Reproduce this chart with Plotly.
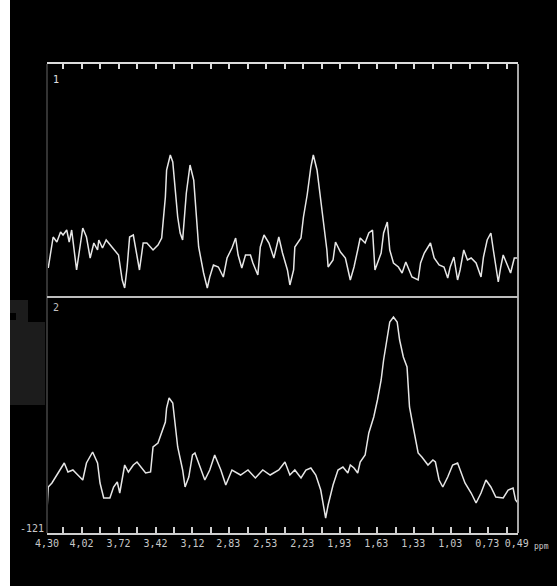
import plotly.graph_objects as go

# ---------------- data ----------------
ppm1 = [4.29, 4.25, 4.22, 4.19, 4.17, 4.14, 4.12, 4.10, 4.06, 4.03, 4.01, 3.98, 3.95, 3.92, 3.89, 3.88,
        3.85, 3.82, 3.80, 3.77, 3.75, 3.72, 3.69, 3.67, 3.65, 3.63, 3.60, 3.57, 3.55, 3.52, 3.49, 3.44,
        3.40, 3.37, 3.34, 3.33, 3.30, 3.28, 3.26, 3.24, 3.22, 3.20, 3.17, 3.14, 3.11, 3.09, 3.07, 3.03,
        3.00, 2.98, 2.95, 2.91, 2.87, 2.84, 2.80, 2.77, 2.75, 2.72, 2.69, 2.65, 2.63, 2.59, 2.57, 2.54,
        2.50, 2.46, 2.42, 2.39, 2.35, 2.33, 2.30, 2.29, 2.24, 2.22, 2.19, 2.16, 2.14, 2.11, 2.08, 2.06,
        2.03, 2.02, 1.98, 1.96, 1.92, 1.88, 1.84, 1.81, 1.78, 1.76, 1.72, 1.69, 1.66, 1.64, 1.59, 1.57,
        1.54, 1.52, 1.49, 1.45, 1.42, 1.39, 1.37, 1.34, 1.29, 1.27, 1.24, 1.19, 1.16, 1.12, 1.08, 1.05,
        1.03, 1.00, 0.97, 0.95, 0.92, 0.89, 0.86, 0.82, 0.78, 0.76, 0.73, 0.70, 0.68, 0.64, 0.62, 0.60,
        0.56, 0.54, 0.51, 0.48]
int1 = [29, 60, 55, 65, 62, 67, 55, 67, 27, 54, 69, 60, 39, 54, 47, 57,
        49, 57, 54, 50, 47, 42, 17, 9, 30, 60, 62, 40, 27, 54, 54, 47,
        52, 59, 100, 127, 142, 135, 107, 80, 64, 57, 104, 132, 117, 84, 50, 24,
        9, 20, 32, 30, 20, 39, 49, 59, 42, 29, 42, 42, 34, 22, 50, 62,
        54, 39, 60, 44, 27, 12, 27, 50, 59, 80, 102, 130, 142, 127, 100, 77,
        47, 30, 37, 55, 45, 39, 17, 30, 47, 59, 54, 64, 67, 27, 44, 64,
        75, 47, 34, 30, 24, 35, 29, 20, 17, 34, 44, 54, 39, 32, 30, 19,
        30, 40, 17, 27, 47, 37, 39, 34, 20, 40, 57, 64, 47, 15, 30, 42,
        30, 24, 39, 39]

ppm2 = [4.30, 4.29, 4.26, 4.23, 4.19, 4.16, 4.13, 4.09, 4.05, 4.01, 3.98, 3.95, 3.93, 3.89, 3.87, 3.84,
        3.79, 3.76, 3.73, 3.71, 3.68, 3.67, 3.64, 3.60, 3.57, 3.53, 3.50, 3.46, 3.44, 3.40, 3.37, 3.34,
        3.33, 3.31, 3.28, 3.26, 3.24, 3.20, 3.18, 3.15, 3.12, 3.10, 3.06, 3.02, 2.98, 2.94, 2.89, 2.85,
        2.80, 2.73, 2.67, 2.61, 2.55, 2.49, 2.42, 2.37, 2.33, 2.29, 2.24, 2.20, 2.16, 2.12, 2.08, 2.04,
        2.02, 1.98, 1.94, 1.90, 1.86, 1.84, 1.81, 1.78, 1.76, 1.72, 1.69, 1.65, 1.62, 1.59, 1.57, 1.54,
        1.52, 1.49, 1.46, 1.44, 1.41, 1.38, 1.36, 1.33, 1.29, 1.26, 1.23, 1.21, 1.17, 1.15, 1.12, 1.09,
        1.05, 1.01, 0.97, 0.95, 0.91, 0.86, 0.82, 0.78, 0.74, 0.70, 0.66, 0.60, 0.56, 0.52, 0.50, 0.48]
int2 = [-98, -75, -71, -65, -58, -51, -60, -58, -63, -68, -51, -45, -40, -51, -71, -86,
        -86, -75, -70, -81, -61, -53, -60, -53, -50, -56, -61, -60, -35, -31, -21, -10,
        4, 14, 9, -15, -35, -58, -75, -65, -43, -41, -55, -68, -58, -43, -58, -73,
        -58, -63, -58, -66, -58, -63, -58, -50, -63, -58, -66, -58, -56, -63, -78, -106,
        -93, -73, -58, -55, -61, -53, -56, -61, -50, -43, -21, -5, 12, 32, 52, 74,
        90, 95, 90, 72, 55, 45, 5, -15, -41, -45, -50, -53, -48, -50, -68, -75,
        -65, -53, -51, -58, -71, -81, -91, -81, -68, -75, -85, -86, -78, -76, -88, -91]

tick_labels = ["4,30", "4,02", "3,72", "3,42", "3,12", "2,83", "2,53", "2,23",
               "1,93", "1,63", "1,33", "1,03", "0,73", "0,49"]
panel_labels = ["1", "2"]
y_min_label = "-121"
x_range = [4.30, 0.48]
y1_range = [0, 233]
y2_range = [-121, 115]

# ---------------- figure ----------------
W, H = 557, 586
L, R, T, B = 47, 39, 64, 53
plot_h = H - T - B
split = 236 / plot_h

def px(xp):
    return (xp - L) / (W - L - R)

def py(yp):
    return (H - B - yp) / plot_h

line_col = "#e6e6e6"
font = dict(family="DejaVu Sans Mono", size=10, color="#c8c8c8")

fig = go.Figure()
fig.add_trace(go.Scatter(x=ppm1, y=int1, mode="lines", xaxis="x2", yaxis="y2",
                         line=dict(color=line_col, width=1.5), hoverinfo="skip"))
fig.add_trace(go.Scatter(x=ppm2, y=int2, mode="lines", xaxis="x", yaxis="y",
                         line=dict(color=line_col, width=1.5), hoverinfo="skip"))

tickvals = [float(t.replace(",", ".")) for t in tick_labels]

fig.update_layout(
    width=W, height=H,
    margin=dict(l=L, r=R, t=T, b=B),
    paper_bgcolor="black", plot_bgcolor="black",
    showlegend=False,
    xaxis=dict(range=x_range, anchor="y", domain=[0, 1],
               tickmode="array", tickvals=tickvals, ticktext=tick_labels,
               ticks="", tickfont=font, showgrid=False, zeroline=False,
               showline=True, linecolor="#cfcfcf", linewidth=2),
    xaxis3=dict(range=x_range, anchor="y", overlaying="x",
                tickmode="linear", tick0=4.02, dtick=0.15,
                ticks="inside", ticklen=6, tickwidth=1.5, tickcolor="#cfcfcf",
                showticklabels=False, showgrid=False, zeroline=False, showline=False),
    xaxis2=dict(range=x_range, anchor="y2", side="top", matches="x",
                tickmode="linear", tick0=4.02, dtick=0.15,
                ticks="inside", ticklen=5, tickwidth=1.5, tickcolor="#dcdcdc",
                showticklabels=False, showgrid=False, zeroline=False,
                showline=True, linecolor="#dcdcdc", linewidth=2),
    yaxis=dict(range=y2_range, domain=[0, split], showticklabels=False, ticks="",
               showgrid=False, zeroline=False),
    yaxis2=dict(range=y1_range, domain=[split, 1], showticklabels=False, ticks="",
                showgrid=False, zeroline=False),
)
# dummy trace so xaxis3 is drawn
fig.add_trace(go.Scatter(x=[x_range[0]], y=[y2_range[0]], xaxis="x3", yaxis="y",
                         mode="markers", marker=dict(opacity=0), hoverinfo="skip"))

shapes = [
    # white strip on the left edge of the image
    dict(type="rect", xref="paper", yref="paper", x0=px(-2), x1=px(10), y0=py(H + 2), y1=py(-2),
         fillcolor="#ffffff", line=dict(width=0), layer="above"),
    # dark grey blocks at the left
    dict(type="rect", xref="paper", yref="paper", x0=px(10), x1=px(28), y0=py(322), y1=py(300),
         fillcolor="#1c1c1c", line=dict(width=0), layer="below"),
    dict(type="rect", xref="paper", yref="paper", x0=px(10), x1=px(45), y0=py(405), y1=py(322),
         fillcolor="#1c1c1c", line=dict(width=0), layer="below"),
    dict(type="rect", xref="paper", yref="paper", x0=px(10), x1=px(16), y0=py(320), y1=py(313),
         fillcolor="black", line=dict(width=0), layer="below"),
    # left frame (dark grey)
    dict(type="line", xref="paper", yref="paper", x0=px(47), x1=px(47), y0=0, y1=1,
         line=dict(color="#333333", width=2)),
    # right frame
    dict(type="line", xref="paper", yref="paper", x0=1, x1=1, y0=0, y1=1,
         line=dict(color="#a8a8a8", width=2)),
    # divider between the two spectra
    dict(type="line", xref="paper", yref="paper", x0=0, x1=1, y0=split, y1=split,
         line=dict(color="#bdbdbd", width=2)),
]
fig.update_layout(shapes=shapes)

annotations = [
    dict(text=panel_labels[0], xref="paper", yref="paper", x=px(51), y=py(72),
         xanchor="left", yanchor="top", showarrow=False, font=dict(family="DejaVu Sans Mono", size=10, color="#e0e0e0")),
    dict(text=panel_labels[1], xref="paper", yref="paper", x=px(51), y=py(300),
         xanchor="left", yanchor="top", showarrow=False, font=dict(family="DejaVu Sans Mono", size=10, color="#c0c0c0")),
    dict(text=y_min_label, xref="paper", yref="paper", x=px(46), y=py(528),
         xanchor="right", yanchor="middle", showarrow=False, font=font),
    dict(text="ppm", xref="paper", yref="paper", x=px(532), y=py(546),
         xanchor="left", yanchor="middle", showarrow=False,
         font=dict(family="DejaVu Sans Mono", size=8, color="#c8c8c8")),
]
fig.update_layout(annotations=annotations)

fig.write_html("out.html", config={"displayModeBar": False},
               post_script="document.body.style.margin='0';document.body.style.background='black';")
